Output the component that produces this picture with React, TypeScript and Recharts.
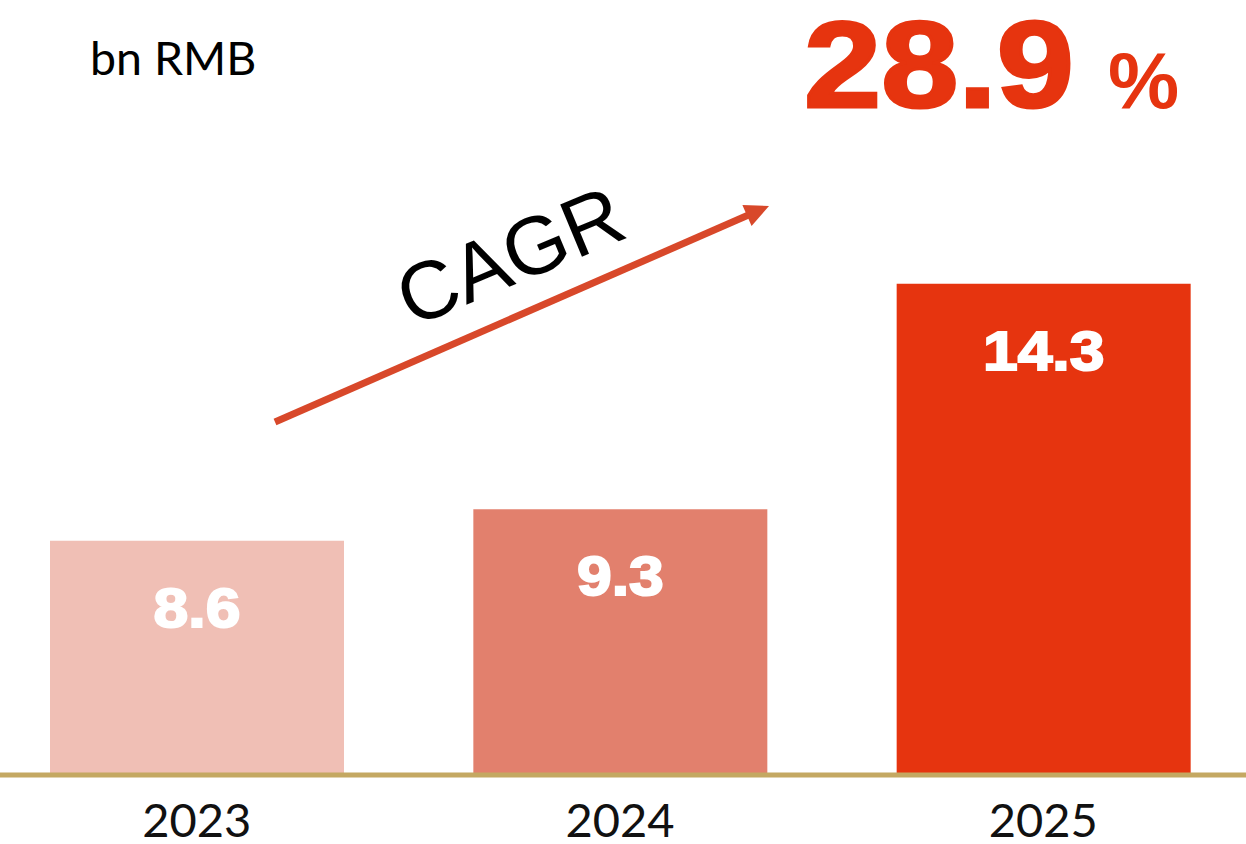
import React from 'react';
import { BarChart, Bar, XAxis, YAxis, Cell, LabelList, Customized } from 'recharts';

const years = ['2023', '2024', '2025'];
const revenue = [8.6, 9.3, 14.3];
const cagrText = '28.9';
const unitText = 'bn RMB';

const COLORS = ['#f0bfb5', '#dd6a54', '#e6340f'];
const OPACITY = [1, 0.85, 1];
const RED = '#e6340f';
const ARROW = '#d8482a';
const ARIAL = "'Liberation Sans', Arial, sans-serif";

const data = years.map((year, i) => ({ year, value: revenue[i] }));

const YearTick = (props: any) => {
    const { x, y, payload } = props;
    return (
        <text x={x} y={y + 60} textAnchor="middle" fontFamily="Lato" fontSize={47} fill="#111">
            {payload.value}
        </text>
    );
};

// the labels in the original are a heavy black face, so stretch + stroke the bold one
const renderValueLabel = (props: any) => {
    const { x, y, width, value } = props;
    const s = String(value);
    const size = 56;
    const len = s.split('').reduce((acc, ch) => acc + (ch === '.' ? 0.31 : 0.62), 0) * size;
    return (
        <text
            x={x + width / 2}
            y={y + 86}
            textAnchor="middle"
            fontFamily={ARIAL}
            fontWeight="bold"
            fontSize={size}
            fill="#fff"
            stroke="#fff"
            strokeWidth={2}
            textLength={len}
            lengthAdjust="spacingAndGlyphs"
        >
            {s}
        </text>
    );
};

const Annotations = () => (
    <g>
        <text x={90} y={75} fontFamily="Lato" fontSize={46.5} fill="#000">{unitText}</text>
        <text
            x={804}
            y={107}
            fontFamily={ARIAL}
            fontWeight="bold"
            fontSize={122}
            fill={RED}
            stroke={RED}
            strokeWidth={3}
            textLength={270}
            lengthAdjust="spacingAndGlyphs"
        >
            {cagrText}
        </text>
        <text x={1108} y={108} fontFamily={ARIAL} fontWeight="bold" fontSize={80} fill={RED}>
            %
        </text>
        <text
            x={521}
            y={282}
            textAnchor="middle"
            fontFamily={ARIAL}
            fontSize={82}
            fill="#000"
            transform="rotate(-22.7 521 282)"
        >
            CAGR
        </text>
        <line x1={275} y1={422} x2={749} y2={214.8} stroke={ARROW} strokeWidth={7} />
        <polygon points="769,206 751.6,226.1 742.4,205.1" fill={ARROW} />
    </g>
);

export default function App() {
    return (
        <div style={{ position: 'absolute', left: 0, top: 0, width: 1246, height: 844, background: '#fff' }}>
            <BarChart width={1246} height={844} data={data} margin={{ top: 0, right: -9, bottom: 0, left: -15 }}>
                <XAxis
                    dataKey="year"
                    height={69}
                    interval={0}
                    axisLine={{ stroke: '#c4a862', strokeWidth: 5 }}
                    tickLine={false}
                    tickSize={0}
                    tick={<YearTick />}
                />
                <YAxis hide domain={[3.4, 20.6]} allowDataOverflow />
                <Bar dataKey="value" barSize={294} isAnimationActive={false}>
                    {data.map((entry, index) => (
                        <Cell key={`cell-${index}`} fill={COLORS[index]} fillOpacity={OPACITY[index]} />
                    ))}
                    <LabelList dataKey="value" content={renderValueLabel} />
                </Bar>
                <Customized component={Annotations} />
            </BarChart>
        </div>
    );
}
